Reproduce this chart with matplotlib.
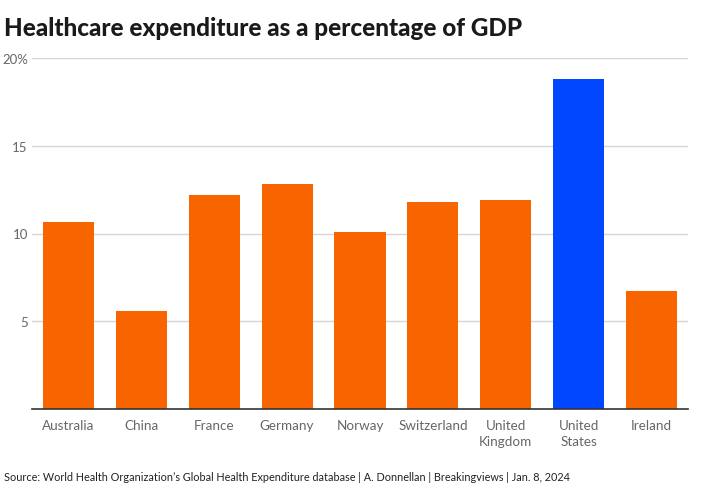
import matplotlib
matplotlib.use("Agg")
import matplotlib.pyplot as plt

countries = ["Australia", "China", "France", "Germany", "Norway", "Switzerland",
             "United\nKingdom", "United\nStates", "Ireland"]
values = [10.64, 5.57, 12.21, 12.80, 10.07, 11.78, 11.91, 18.8, 6.72]
highlight = "United\nStates"
yticks = [5, 10, 15, 20]
ytick_labels = ["5", "10", "15", "20%"]

orange = "#F76400"
blue = "#0047FF"
colors = [blue if c == highlight else orange for c in countries]

plt.rcParams["font.family"] = ["Lato", "DejaVu Sans"]

W, H = 702, 489
fig = plt.figure(figsize=(W / 100, H / 100), dpi=100)
ax = fig.add_axes([32 / W, 1 - 410 / H, (688 - 32) / W, (410 - 59) / H])

x = list(range(len(countries)))
ax.bar(x, values, width=0.7, color=colors, zorder=3)
ax.set_xlim(-0.5, len(countries) - 0.5)
ax.set_ylim(0, 20)
ax.set_yticks(yticks)
ax.set_yticklabels(ytick_labels)
ax.set_xticks(x)
ax.set_xticklabels(countries, linespacing=1.45)
ax.grid(axis="y", color="#d6d6d6", linewidth=1, zorder=0)
for s in ["top", "right", "left"]:
    ax.spines[s].set_visible(False)
ax.spines["bottom"].set_color("#333333")
ax.spines["bottom"].set_linewidth(1.2)
ax.spines["bottom"].set_zorder(4)
ax.tick_params(axis="both", length=0, labelsize=9.7, labelcolor="#666666")
ax.tick_params(axis="y", pad=3, labelsize=9.5)
ax.tick_params(axis="x", pad=7)

fig.text(4 / W, 1 - 28 / H, "Healthcare expenditure as a percentage of GDP",
         fontsize=17.5, fontweight="black", color="#1a1a1a", va="center", ha="left")
fig.text(4 / W, 1 - 478 / H,
         "Source: World Health Organization\u2019s Global Health Expenditure database | A. Donnellan | Breakingviews | Jan. 8, 2024",
         fontsize=7.8, color="#222222", va="center", ha="left")

fig.savefig("out.png", dpi=100, facecolor="white")
